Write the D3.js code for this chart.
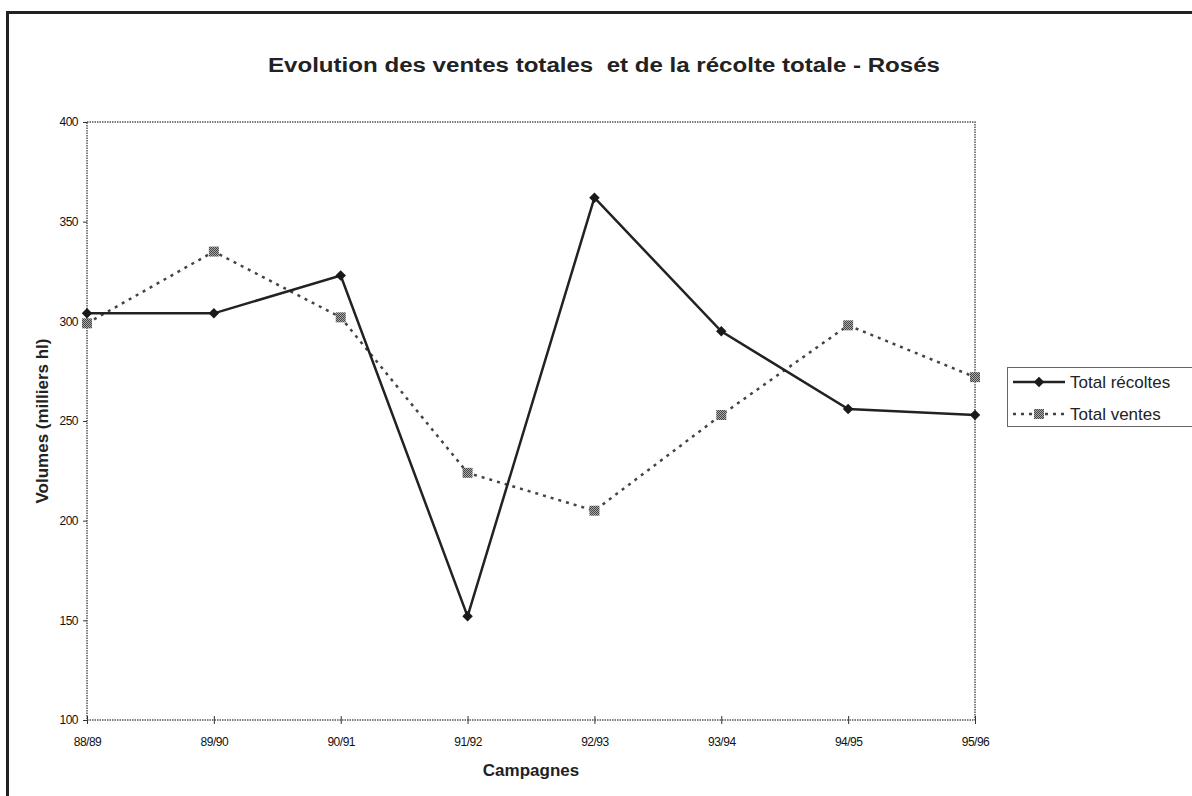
<!DOCTYPE html>
<html>
<head>
<meta charset="utf-8">
<script src="https://cdn.jsdelivr.net/npm/d3@7"></script>
<style>
  body { margin: 0; background: #fff; }
  svg { display: block; font-family: "Liberation Sans", Arial, sans-serif; }
</style>
</head>
<body>
<div id="chart"></div>
<script>
let campagnes = ["88/89", "89/90", "90/91", "91/92", "92/93", "93/94", "94/95", "95/96"];
let recoltes = [304, 304, 323, 152, 362, 295, 256, 253];
let ventes = [299, 335, 302, 224, 205, 253, 298, 272];
let y_ticks = [100, 150, 200, 250, 300, 350, 400];

let width = 1192, height = 796;
let margin = {top: 122, right: 217, bottom: 76, left: 87};

let svg = d3.select("#chart")
            .append("svg")
            .attr("width", width)
            .attr("height", height);

// cadre extérieur (dépasse à droite et en bas)
svg.append("rect")
    .attr("x", 7.5)
    .attr("y", 12.5)
    .attr("width", 1300)
    .attr("height", 900)
    .attr("fill", "none")
    .attr("stroke", "#222")
    .attr("stroke-width", 3);

let defs = svg.append("defs");
let pat = defs.append("pattern")
    .attr("id", "checker")
    .attr("width", 2)
    .attr("height", 2)
    .attr("patternUnits", "userSpaceOnUse");
pat.append("rect").attr("width", 2).attr("height", 2).attr("fill", "#aaa");
pat.append("rect").attr("width", 1).attr("height", 1).attr("fill", "#444");
pat.append("rect").attr("x", 1).attr("y", 1).attr("width", 1).attr("height", 1).attr("fill", "#444");

let x = d3.scalePoint()
          .domain(campagnes)
          .range([margin.left, width - margin.right]);

let y = d3.scaleLinear()
          .domain([100, 400])
          .range([height - margin.bottom, margin.top]);

// bordure de la zone de tracé
svg.append("rect")
    .attr("x", margin.left)
    .attr("y", margin.top)
    .attr("width", x.range()[1] - margin.left)
    .attr("height", y(100) - y(400))
    .attr("fill", "none")
    .attr("stroke", "#555")
    .attr("stroke-width", 1.5)
    .attr("stroke-dasharray", "1.5,1");

svg.append("g")
    .attr("transform", "translate(" + margin.left + ",0)")
    .style("font-size", "12px")
    .call(d3.axisLeft(y).tickValues(y_ticks).tickSize(4).tickPadding(5))
    .call(g => g.select(".domain").remove())
    .call(g => g.selectAll("line").attr("stroke", "#333"))
    .call(g => g.selectAll("text").attr("fill", "#111").attr("font-family", "Liberation Sans, Arial").attr("letter-spacing", "-0.5"));

svg.append("g")
    .attr("transform", "translate(0," + y(100) + ")")
    .style("font-size", "12px")
    .call(d3.axisBottom(x).tickSize(4).tickPadding(13))
    .call(g => g.select(".domain").remove())
    .call(g => g.selectAll("line").attr("stroke", "#333").attr("y1", -4))
    .call(g => g.selectAll("text").attr("fill", "#111").attr("font-family", "Liberation Sans, Arial").attr("letter-spacing", "-0.5"));

// titres
svg.append("text")
    .attr("x", 604)
    .attr("y", 72)
    .attr("text-anchor", "middle")
    .attr("xml:space", "preserve")
    .style("white-space", "pre")
    .style("font-size", "20px")
    .style("font-weight", "bold")
    .attr("fill", "#222")
    .attr("textLength", 672)
    .attr("lengthAdjust", "spacingAndGlyphs")
    .text("Evolution des ventes totales  et de la récolte totale - Rosés");

svg.append("text")
    .attr("x", (margin.left + x.range()[1]) / 2)
    .attr("y", 776)
    .attr("text-anchor", "middle")
    .style("font-size", "17px")
    .style("font-weight", "bold")
    .attr("fill", "#222")
    .text("Campagnes");

svg.append("text")
    .attr("transform", "translate(48," + ((y(100) + y(400)) / 2) + ") rotate(-90)")
    .attr("text-anchor", "middle")
    .style("font-size", "17px")
    .style("font-weight", "bold")
    .attr("fill", "#222")
    .text("Volumes (milliers hl)");

let line = d3.line()
             .x((d, i) => x(campagnes[i]))
             .y(d => y(d));

svg.append("path")
    .datum(ventes)
    .attr("d", line)
    .attr("fill", "none")
    .attr("stroke", "#444")
    .attr("stroke-width", 2.5)
    .attr("stroke-dasharray", "3,5");

svg.append("path")
    .datum(recoltes)
    .attr("d", line)
    .attr("fill", "none")
    .attr("stroke", "#222")
    .attr("stroke-width", 2.5);

let diamond = d3.symbol().type(d3.symbolDiamond2).size(70);

svg.append("g")
    .selectAll("rect")
    .data(ventes)
    .enter()
    .append("rect")
    .attr("x", (d, i) => x(campagnes[i]) - 5)
    .attr("y", d => y(d) - 5)
    .attr("width", 10)
    .attr("height", 10)
    .attr("fill", "url(#checker)");

svg.append("g")
    .selectAll("path")
    .data(recoltes)
    .enter()
    .append("path")
    .attr("d", diamond)
    .attr("transform", (d, i) => "translate(" + x(campagnes[i]) + "," + y(d) + ")")
    .attr("fill", "#1a1a1a");

// légende
let legend = svg.append("g").attr("transform", "translate(1007,367)");

legend.append("rect")
    .attr("x", 0.5)
    .attr("y", 0.5)
    .attr("width", 300)
    .attr("height", 59)
    .attr("fill", "#fff")
    .attr("stroke", "#666")
    .attr("stroke-width", 1);

legend.append("line")
    .attr("x1", 6).attr("x2", 58)
    .attr("y1", 15).attr("y2", 15)
    .attr("stroke", "#222")
    .attr("stroke-width", 2.5);
legend.append("path")
    .attr("d", diamond)
    .attr("transform", "translate(32,15)")
    .attr("fill", "#1a1a1a");

legend.append("line")
    .attr("x1", 6).attr("x2", 58)
    .attr("y1", 47).attr("y2", 47)
    .attr("stroke", "#444")
    .attr("stroke-width", 2.5)
    .attr("stroke-dasharray", "3,5");
legend.append("rect")
    .attr("x", 27).attr("y", 42)
    .attr("width", 10).attr("height", 10)
    .attr("fill", "url(#checker)");

legend.selectAll(".leg")
    .data(["Total récoltes", "Total ventes"])
    .enter()
    .append("text")
    .attr("x", 63)
    .attr("y", (d, i) => 15 + i * 32)
    .attr("dy", ".35em")
    .style("font-size", "17px")
    .attr("fill", "#222")
    .text(d => d);
</script>
</body>
</html>
